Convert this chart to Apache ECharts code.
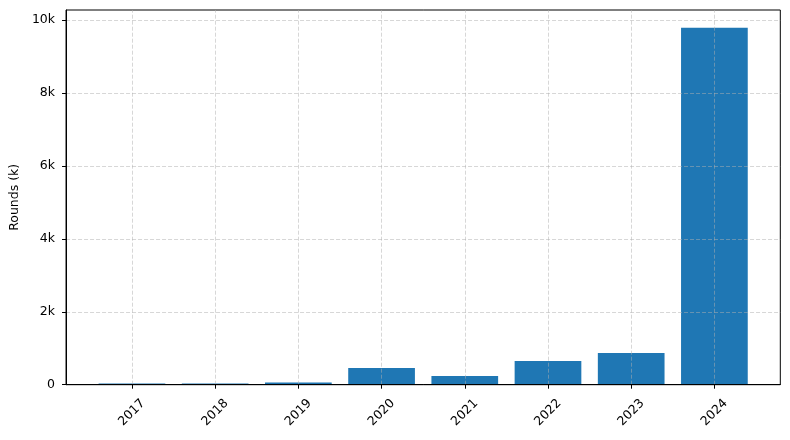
<!DOCTYPE html>
<html>
<head>
<meta charset="utf-8">
<script src="https://cdn.jsdelivr.net/npm/echarts@6/dist/echarts.min.js"></script>
<style>
html,body{margin:0;padding:0;background:#fff;}
#chart{width:790px;height:440px;}
</style>
</head>
<body>
<div id="chart"></div>
<script>
var years = ['2017','2018','2019','2020','2021','2022','2023','2024'];
var rounds = [30, 30, 63, 458, 239, 650, 870, 9790];
var yTicks = [0, 2000, 4000, 6000, 8000, 10000];

var positions = years.map(function (y, i) { return i; });
var barData = rounds.map(function (v, i) { return [positions[i], v]; });
var yMax = Math.max.apply(null, rounds) * 1.05;

var gridLineStyle = { color: '#b0b0b0', opacity: 0.5, type: [4, 2], width: 1 };
var markData = positions.map(function (p) { return { xAxis: p }; })
  .concat(yTicks.map(function (t) { return { yAxis: t }; }));

var font = 'DejaVu Sans';
var fs = 12.5;
var chart = echarts.init(document.getElementById('chart'), null, { renderer: 'canvas' });
chart.setOption({
  animation: false,
  textStyle: { fontFamily: font },
  grid: { left: 65.3, right: 9.7, top: 10, bottom: 55.3, show: true, borderColor: '#000', borderWidth: 1, backgroundColor: 'transparent' },
  xAxis: {
    type: 'value',
    min: -0.792,
    max: 7.792,
    z: 10,
    axisLine: { show: true, onZero: false, lineStyle: { color: '#000', width: 1 } },
    axisTick: { show: true, length: 4, lineStyle: { color: '#000' }, customValues: positions },
    axisLabel: {
      customValues: positions,
      rotate: 45,
      align: 'center',
      verticalAlign: 'middle',
      margin: 28,
      fontSize: fs,
      color: '#000',
      fontFamily: font,
      formatter: function (v) { return years[Math.round(v)]; }
    },
    splitLine: { show: false }
  },
  yAxis: {
    type: 'value',
    min: 0,
    max: yMax,
    z: 10,
    name: 'Rounds (k)',
    nameLocation: 'middle',
    nameGap: 43,
    nameTextStyle: { fontSize: fs, color: '#000', fontFamily: font },
    axisLine: { show: true, onZero: false, lineStyle: { color: '#000', width: 1 } },
    axisTick: { show: true, length: 4, lineStyle: { color: '#000' }, customValues: yTicks },
    axisLabel: {
      customValues: yTicks,
      margin: 11,
      fontSize: fs,
      color: '#000',
      fontFamily: font,
      formatter: function (v) { return v === 0 ? '0' : (v / 1000) + 'k'; }
    },
    splitLine: { show: false }
  },
  series: [{
    type: 'bar',
    data: barData,
    barWidth: 66.7,
    itemStyle: { color: '#1f77b4' },
    markLine: {
      silent: true,
      symbol: 'none',
      z: 5,
      label: { show: false },
      lineStyle: gridLineStyle,
      emphasis: { disabled: true },
      data: markData
    }
  }]
});
</script>
</body>
</html>
